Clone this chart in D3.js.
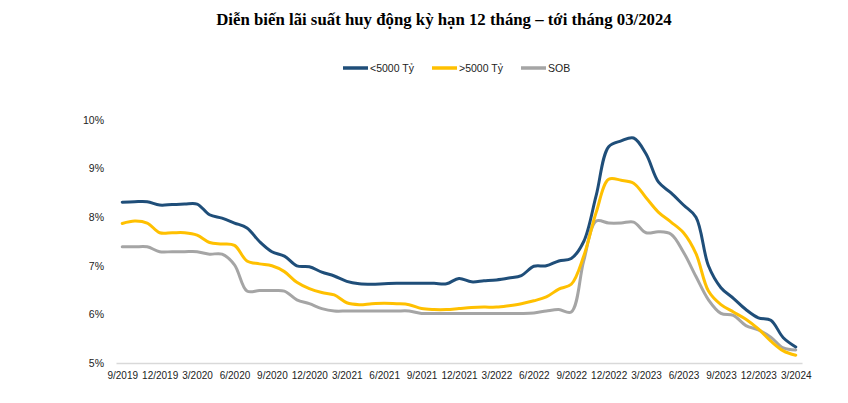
<!DOCTYPE html>
<html lang="vi">
<head>
<meta charset="utf-8">
<title>Lãi suất huy động kỳ hạn 12 tháng</title>
<script src="https://cdn.jsdelivr.net/npm/d3@7"></script>
<style type="text/css">
body { margin: 0; background: #fff; }
#vis svg { display: block; }
.title { font-family: "Liberation Serif", "Times New Roman", serif; font-weight: bold; font-size: 16.8px; fill: #000; }
.legend text, .axis text { font-family: "Liberation Sans", Arial, sans-serif; fill: #222; }
</style>
</head>
<body>

<div id="vis"></div>

<script>

/* Data */
/* ==== */

var months = [
	'9/2019','10/2019','11/2019','12/2019','1/2020','2/2020','3/2020','4/2020','5/2020','6/2020',
	'7/2020','8/2020','9/2020','10/2020','11/2020','12/2020','1/2021','2/2021','3/2021','4/2021',
	'5/2021','6/2021','7/2021','8/2021','9/2021','10/2021','11/2021','12/2021','1/2022','2/2022',
	'3/2022','4/2022','5/2022','6/2022','7/2022','8/2022','9/2022','10/2022','11/2022','12/2022',
	'1/2023','2/2023','3/2023','4/2023','5/2023','6/2023','7/2023','8/2023','9/2023','10/2023',
	'11/2023','12/2023','1/2024','2/2024','3/2024'
];

var tickLabels = [
	'9/2019','12/2019','3/2020','6/2020','9/2020','12/2020','3/2021','6/2021','9/2021','12/2021',
	'3/2022','6/2022','9/2022','12/2022','3/2023','6/2023','9/2023','12/2023','3/2024'
];

// <5000 Tỷ
var small = [
	8.31, 8.32, 8.32, 8.25, 8.26, 8.27, 8.27, 8.05, 7.98, 7.88,
	7.78, 7.50, 7.29, 7.20, 7.00, 6.98, 6.87, 6.79, 6.68, 6.63,
	6.62, 6.63, 6.64, 6.64, 6.64, 6.64, 6.63, 6.74, 6.67, 6.69,
	6.71, 6.75, 6.80, 6.99, 7.00, 7.10, 7.15, 7.50, 8.45, 9.45,
	9.57, 9.63, 9.30, 8.72, 8.50, 8.25, 8.00, 7.00, 6.55, 6.33,
	6.10, 5.93, 5.88, 5.52, 5.33
];

// >5000 Tỷ
var large = [
	7.87, 7.92, 7.88, 7.68, 7.68, 7.68, 7.63, 7.48, 7.45, 7.42,
	7.10, 7.04, 7.00, 6.88, 6.66, 6.53, 6.45, 6.40, 6.24, 6.20,
	6.22, 6.23, 6.22, 6.20, 6.12, 6.10, 6.10, 6.12, 6.14, 6.15,
	6.15, 6.18, 6.22, 6.28, 6.36, 6.52, 6.62, 7.20, 8.10, 8.78,
	8.76, 8.70, 8.40, 8.10, 7.90, 7.68, 7.25, 6.48, 6.20, 6.05,
	5.90, 5.70, 5.45, 5.25, 5.16
];

// SOB
var sob = [
	7.39, 7.39, 7.39, 7.29, 7.29, 7.29, 7.29, 7.24, 7.24, 7.02,
	6.48, 6.49, 6.49, 6.48, 6.30, 6.22, 6.12, 6.07, 6.07, 6.07,
	6.07, 6.07, 6.07, 6.07, 6.02, 6.02, 6.02, 6.02, 6.02, 6.02,
	6.02, 6.02, 6.02, 6.03, 6.07, 6.10, 6.05, 7.10, 7.92, 7.88,
	7.88, 7.90, 7.68, 7.70, 7.65, 7.28, 6.78, 6.30, 6.02, 5.98,
	5.77, 5.68, 5.53, 5.31, 5.27
];

var yTicks = [5, 6, 7, 8, 9, 10];

var seriesNames = ['<5000 Tỷ', '>5000 Tỷ', 'SOB'];
var seriesColors = ['#1f4e79', '#ffc000', '#a5a5a5'];


/* SVG */
/* === */

var W = 848, H = 403;
var plot = { left: 116, right: 802, top: 120, bottom: 363 };

var svg = d3.select('#vis')
	.append('svg')
		.attr('width', W)
		.attr('height', H);


/* Scales */
/* ====== */

var x = d3.scalePoint()
	.domain(months)
	.range([plot.left, plot.right])
	.padding(0.5);

var y = d3.scaleLinear()
	.domain([5, 10])
	.range([plot.bottom, plot.top]);


/* Title */
/* ===== */

svg.append('text')
	.attr('class', 'title')
	.attr('x', 444)
	.attr('y', 25)
	.attr('text-anchor', 'middle')
	.text('Diễn biến lãi suất huy động kỳ hạn 12 tháng – tới tháng 03/2024');


/* Legend */
/* ====== */

var legendX = [343, 432, 521];

var legend = svg.append('g').attr('class', 'legend')
		.selectAll('g')
	.data(seriesNames)
	.enter().append('g')
		.attr('transform', function(d, i) { return 'translate(' + legendX[i] + ', 68)'; });

legend.append('line')
	.attr('x1', 0).attr('x2', 25)
	.attr('y1', 0).attr('y2', 0)
	.attr('stroke', function(d, i) { return seriesColors[i]; })
	.attr('stroke-width', 3.5);

legend.append('text')
	.attr('x', 27)
	.attr('y', 4)
	.style('font-size', '10.5px')
	.text(function(d) { return d; });


/* Axes */
/* ==== */

var yAxis = svg.append('g')
	.attr('class', 'axis')
	.attr('transform', 'translate(' + 104 + ', 0)')
	.call(d3.axisLeft(y)
		.tickValues(yTicks)
		.tickSize(0)
		.tickFormat(function(d) { return d + '%'; }));

yAxis.select('.domain').remove();
yAxis.selectAll('text')
	.attr('x', 0)
	.style('font-size', '10.5px');

var xAxis = svg.append('g')
	.attr('class', 'axis')
	.attr('transform', 'translate(0, ' + plot.bottom + ')')
	.call(d3.axisBottom(x)
		.tickValues(tickLabels)
		.tickSize(0));

xAxis.select('.domain')
	.attr('stroke', '#d9d9d9')
	.attr('stroke-width', 1.5);
xAxis.selectAll('text')
	.attr('y', 9)
	.style('font-size', '10px');


/* Lines */
/* ===== */

var line = d3.line()
	.x(function(d, i) { return x(months[i]); })
	.y(function(d) { return y(d); })
	.curve(d3.curveCatmullRom.alpha(0.5));

svg.append('g').attr('id', 'lines')
		.selectAll('path')
	.data([sob, large, small])
	.enter().append('path')
		.attr('d', line)
		.attr('fill', 'none')
		.attr('stroke', function(d, i) { return seriesColors[2 - i]; })
		.attr('stroke-width', 3)
		.attr('stroke-linejoin', 'round')
		.attr('stroke-linecap', 'round');

</script>

</body>
</html>
